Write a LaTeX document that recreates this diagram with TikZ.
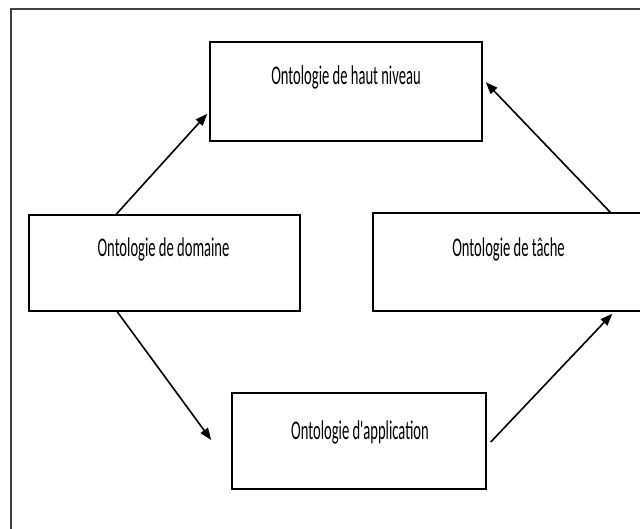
\documentclass[tikz,border=0pt]{standalone}
\usepackage{fontspec}
\usepackage{graphicx}
\usetikzlibrary{arrows.meta,calc}
\newfontfamily\lblfamily{Carlito}
\newcommand\lbltext[1]{\scalebox{0.54}[1]{\fontsize{27}{30}\lblfamily #1}}
\begin{document}
\begin{tikzpicture}[x=1pt,y=-1pt,
  box/.style={draw, line width=1.5pt, rectangle, inner sep=0pt},
  lbl/.style={inner sep=0pt, anchor=center},
  arr/.style={line width=1.6pt, -{Triangle[length=12pt,width=9pt]}}]
\useasboundingbox (0,0) rectangle (640,528);
\clip (0,0) rectangle (640,528);
\fill[white] (0,0) rectangle (640,528);
\draw[line width=1.8pt, draw=black!75] (11,540) -- (11,9) -- (660,9);
% boxes
\node[box, minimum width=272pt, minimum height=99pt] (top) at (346,91.5) {};
\node[box, minimum width=271pt, minimum height=96pt] (dom) at (164.5,263) {};
\node[box, minimum width=271pt, minimum height=98pt] (task) at (508.5,262) {};
\node[box, minimum width=254pt, minimum height=96pt] (app) at (359,441) {};
% labels
\node[lbl] (ttop) at ($(top.north)+(0,36)$) {\lbltext{Ontologie de haut niveau}};
\node[lbl] (tdom) at ($(dom.north)+(-1,35)$) {\lbltext{Ontologie de domaine}};
\node[lbl] (ttask) at ($(task.north)+(0,37)$) {\lbltext{Ontologie de tâche}};
\node[lbl] (tapp) at ($(app.north)+(1,40)$) {\lbltext{Ontologie d'application}};
% connectors
\draw[arr] ($(dom.north west)+(88,0)$) -- ($(top.south west)+(-2,-28)$);
\draw[arr] ($(task.north west)+(238,0)$) -- ($(top.north east)+(3,41)$);
\draw[arr] ($(dom.south west)+(89,0)$) -- ($(app.west)+(-20,-1)$);
\draw[arr] ($(app.east)+(4,1)$) -- ($(task.south west)+(240,2)$);
\end{tikzpicture}
\end{document}
